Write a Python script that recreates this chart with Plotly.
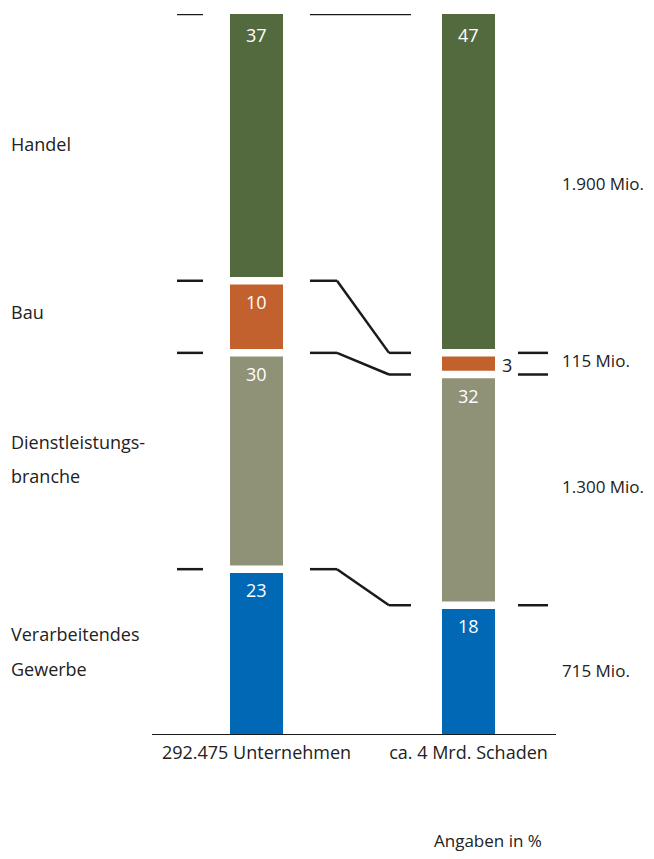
import plotly.graph_objects as go
import numpy as np

# data (Angaben in %)
sectors    = ["Verarbeitendes Gewerbe", "Dienstleistungsbranche", "Bau", "Handel"]
colors     = ["#0068B4", "#8F9276", "#C2612E", "#536A3F"]
left_vals  = [23, 30, 10, 37]      # 292.475 Unternehmen
right_vals = [18, 32, 3, 47]       # ca. 4 Mrd. Schaden
categories = ["292.475 Unternehmen", "ca. 4 Mrd. Schaden"]
amounts    = ["715 Mio.", "1.300 Mio.", "115 Mio.", "1.900 Mio."]
left_labels = [["Verarbeitendes", "Gewerbe"], ["Dienstleistungs-", "branche"], ["Bau"], ["Handel"]]

FONT = "Open Sans, Noto Sans, Arial"
TXT = "#222222"
LINE = "#1a1a1a"
FS = 18

# page body has an 8px margin -> work in page pixels and shift
OFF = 8
W, H = 654 - 2 * OFF, 859 - 2 * OFF
T, B = 6, 116
PLOT_H = H - T - B


def px(x):
    return x - OFF


def py(y):
    return (H - B - (y - OFF)) / PLOT_H


XL, XR, BW = px(256.5), px(468.5), 53
left_dash = (px(177), px(203))
mid = (px(310), px(337), px(389), px(411))
right_dash = (px(518), px(548))

fig = go.Figure()
for i, s in enumerate(sectors):
    fig.add_trace(go.Bar(
        x=[XL, XR], y=[left_vals[i], right_vals[i]], width=BW,
        marker=dict(color=colors[i], line=dict(width=0)),
        name=s, showlegend=False, hoverinfo="skip",
    ))

shapes, ann = [], []
ltop = np.cumsum(left_vals)
rtop = np.cumsum(right_vals)
rbot = rtop - np.array(right_vals)


def seg(x0, x1, y0, y1, color=LINE, w=2.5):
    shapes.append(dict(type="line", xref="x", yref="y", x0=x0, x1=x1, y0=y0, y1=y1,
                       line=dict(color=color, width=w), layer="above"))


# white gaps between segments
for v in ltop[:-1]:
    seg(XL - BW / 2, XL + BW / 2, v, v, color="white", w=7.5)
for v in rtop[:-1]:
    seg(XR - BW / 2, XR + BW / 2, v, v, color="white", w=7.5)

# connectors
for k, (lv, rv) in enumerate(zip(ltop[::-1], rtop[::-1])):
    seg(left_dash[0], left_dash[1], lv, lv)
    if k == 0:
        seg(mid[0], mid[3], lv, rv)
    else:
        seg(mid[0], mid[1], lv, lv)
        seg(mid[1], mid[2], lv, rv)
        seg(mid[2], mid[3], rv, rv)
        seg(right_dash[0], right_dash[1], rv, rv)

# baseline
seg(px(152), px(556), 0, 0, w=2)

# values in bars
for i in range(len(sectors)):
    ann.append(dict(x=XL, y=ltop[i], text=str(left_vals[i]), yshift=-21, showarrow=False,
                    font=dict(color="white", size=FS, family=FONT)))
    if right_vals[i] >= 5:
        ann.append(dict(x=XR, y=rtop[i], text=str(right_vals[i]), yshift=-21, showarrow=False,
                        font=dict(color="white", size=FS, family=FONT)))
    else:
        ann.append(dict(x=XR + BW / 2 + 5, y=(rtop[i] + rbot[i]) / 2, text=str(right_vals[i]),
                        xanchor="left", showarrow=False, yshift=-1,
                        font=dict(color=TXT, size=FS, family=FONT)))


def label(x, y, t, size=FS):
    ann.append(dict(x=px(x) / W, y=py(y), xref="paper", yref="paper", text=t,
                    xanchor="left", yanchor="middle", showarrow=False, borderpad=0,
                    font=dict(color=TXT, size=size, family=FONT)))


# sector labels left, amounts right (page pixel positions)
left_y = [[634, 669], [442, 476], [312], [144]]
right_y = [670, 487, 360, 183]
for lines, ys in zip(left_labels, left_y):
    for t, yy in zip(lines, ys):
        label(10, yy, t)
for t, yy in zip(amounts, right_y):
    label(561, yy, t, size=17)

# kept just inside the figure's bottom edge
label(433, 840, "Angaben in %", size=17)

fig.update_layout(
    width=W, height=H, barmode="stack", bargap=0,
    margin=dict(l=0, r=0, t=T, b=B),
    paper_bgcolor="white", plot_bgcolor="white",
    font=dict(family=FONT, size=FS, color=TXT),
    xaxis=dict(range=[0, W], showgrid=False, zeroline=False, showline=False,
               tickvals=[XL, XR], ticktext=categories, ticks="", ticklabelstandoff=5,
               tickfont=dict(size=FS, color=TXT)),
    yaxis=dict(range=[0, 100], visible=False),
    shapes=shapes, annotations=ann,
)

fig.write_html("out.html")
